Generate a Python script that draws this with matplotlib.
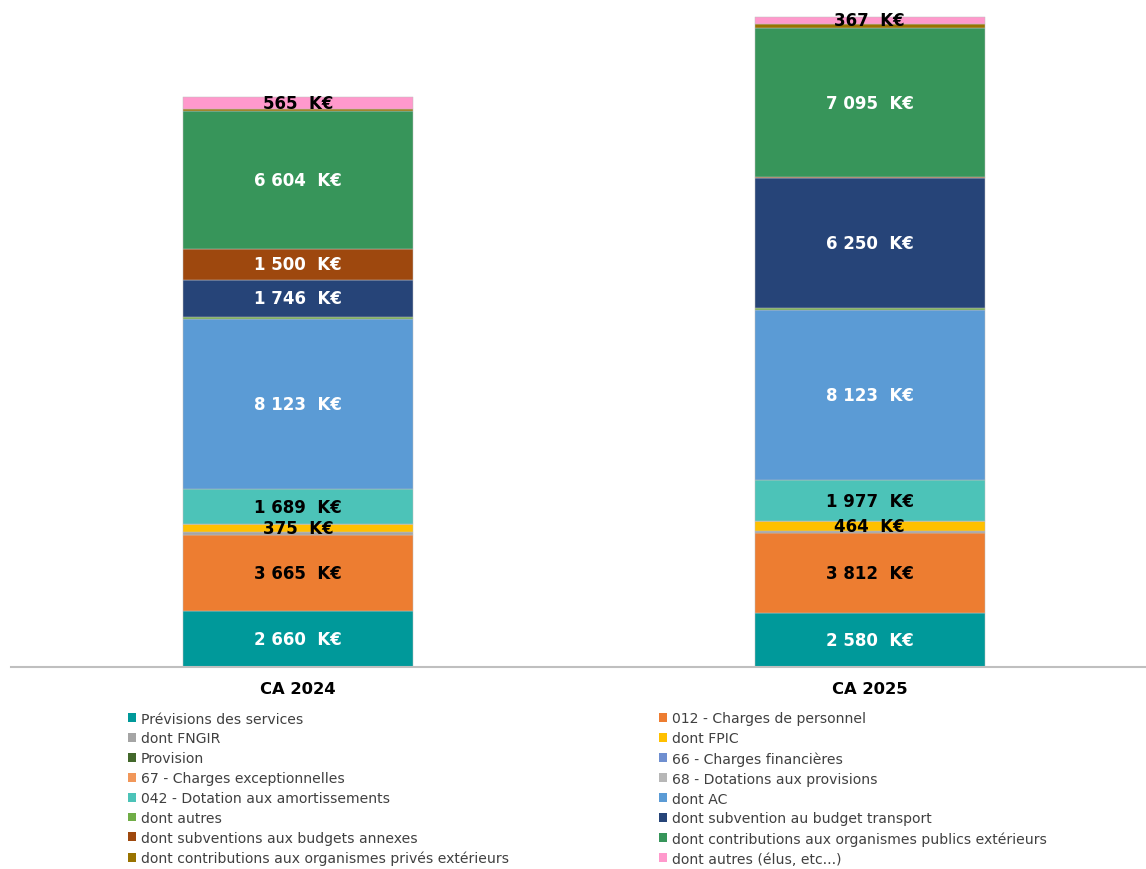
import matplotlib
matplotlib.use("Agg")
import matplotlib.pyplot as plt
from matplotlib.patches import Patch

plt.rcParams['font.family'] = ['DejaVu Sans']

categories = ["CA 2024", "CA 2025"]

series_names = [
    "Prévisions des services",
    "012 - Charges de personnel",
    "dont FNGIR",
    "dont FPIC",
    "Provision",
    "66 - Charges financières",
    "67 - Charges exceptionnelles",
    "68 - Dotations aux provisions",
    "042 - Dotation aux amortissements",
    "dont AC",
    "dont autres",
    "dont subvention au budget transport",
    "dont subventions aux budgets annexes",
    "dont contributions aux organismes publics extérieurs",
    "dont contributions aux organismes privés extérieurs",
    "dont autres (élus, etc...)",
]

previsions = [2660, 2580]
personnel = [3665, 3812]
fngir = [120, 110]
fpic = [375, 464]
provision = [0, 0]
charges_fin = [0, 0]
charges_exc = [0, 0]
dotations_prov = [0, 0]
amortissements = [1689, 1977]
dont_ac = [8123, 8123]
dont_autres = [130, 100]
transport = [1746, 6250]
budgets_annexes = [1500, 40]
org_publics = [6604, 7095]
org_prives = [90, 200]
autres_elus = [565, 367]

series_values = [previsions, personnel, fngir, fpic, provision, charges_fin,
                 charges_exc, dotations_prov, amortissements, dont_ac, dont_autres,
                 transport, budgets_annexes, org_publics, org_prives, autres_elus]

colors = ["#00999A", "#ED7D31", "#A5A5A5", "#FFC000", "#43682B", "#6F8FD0",
          "#F1975A", "#B7B7B7", "#4CC3B8", "#5B9BD5", "#70AD47", "#264478",
          "#9E480E", "#37955A", "#997300", "#FF99CC"]
label_colors = ["white", "black", "black", "black", "white", "white",
                "black", "black", "black", "white", "white", "white",
                "white", "white", "white", "black"]

W, H = 1146, 870
fig = plt.figure(figsize=(W / 100, H / 100), dpi=100)
ax = fig.add_axes([11 / W, 1 - 668 / H, (W - 11) / W, (668 - 12) / H])

x = [0, 1]
bottom = [0, 0]
for name, vals, col, lc in zip(series_names, series_values, colors, label_colors):
    bars = ax.bar(x, vals, width=0.402, bottom=bottom, color=col,
                  edgecolor="#BFBFBF", linewidth=0.35, zorder=2)
    for xi, v, b in zip(x, vals, bottom):
        if v >= 300:
            txt = f"{v:,}".replace(",", " ") + "  K€"
            ax.text(xi, b + v / 2, txt, ha="center", va="center",
                    fontsize=12, fontweight="bold", color=lc, zorder=3)
    bottom = [b + v for b, v in zip(bottom, vals)]

ax.set_xlim(-0.5017, 1.483)
ax.set_ylim(0, 31385)
for s in ["top", "right", "left"]:
    ax.spines[s].set_visible(False)
ax.spines["bottom"].set_color("#BFBFBF")
ax.spines["bottom"].set_linewidth(1.5)
ax.set_yticks([])
ax.set_xticks(x)
ax.set_xticklabels(categories, fontsize=11.8, fontweight="bold", color="black")
ax.tick_params(axis="x", length=0, pad=10)

handles = [Patch(facecolor=c, edgecolor="none") for c in colors]
left_idx = list(range(0, 16, 2))
right_idx = list(range(1, 16, 2))
common = dict(frameon=False, fontsize=10.1, handlelength=0.6, handleheight=0.6,
              handletextpad=0.3, labelspacing=0.42, borderpad=0, borderaxespad=0,
              loc="upper left", labelcolor="#404040")
fig.legend([handles[i] for i in left_idx], [series_names[i] for i in left_idx],
           bbox_to_anchor=(128 / W, 1 - 712.5 / H), **common)
fig.legend([handles[i] for i in right_idx], [series_names[i] for i in right_idx],
           bbox_to_anchor=(659 / W, 1 - 712.5 / H), **common)

fig.savefig("out.png", dpi=100)
